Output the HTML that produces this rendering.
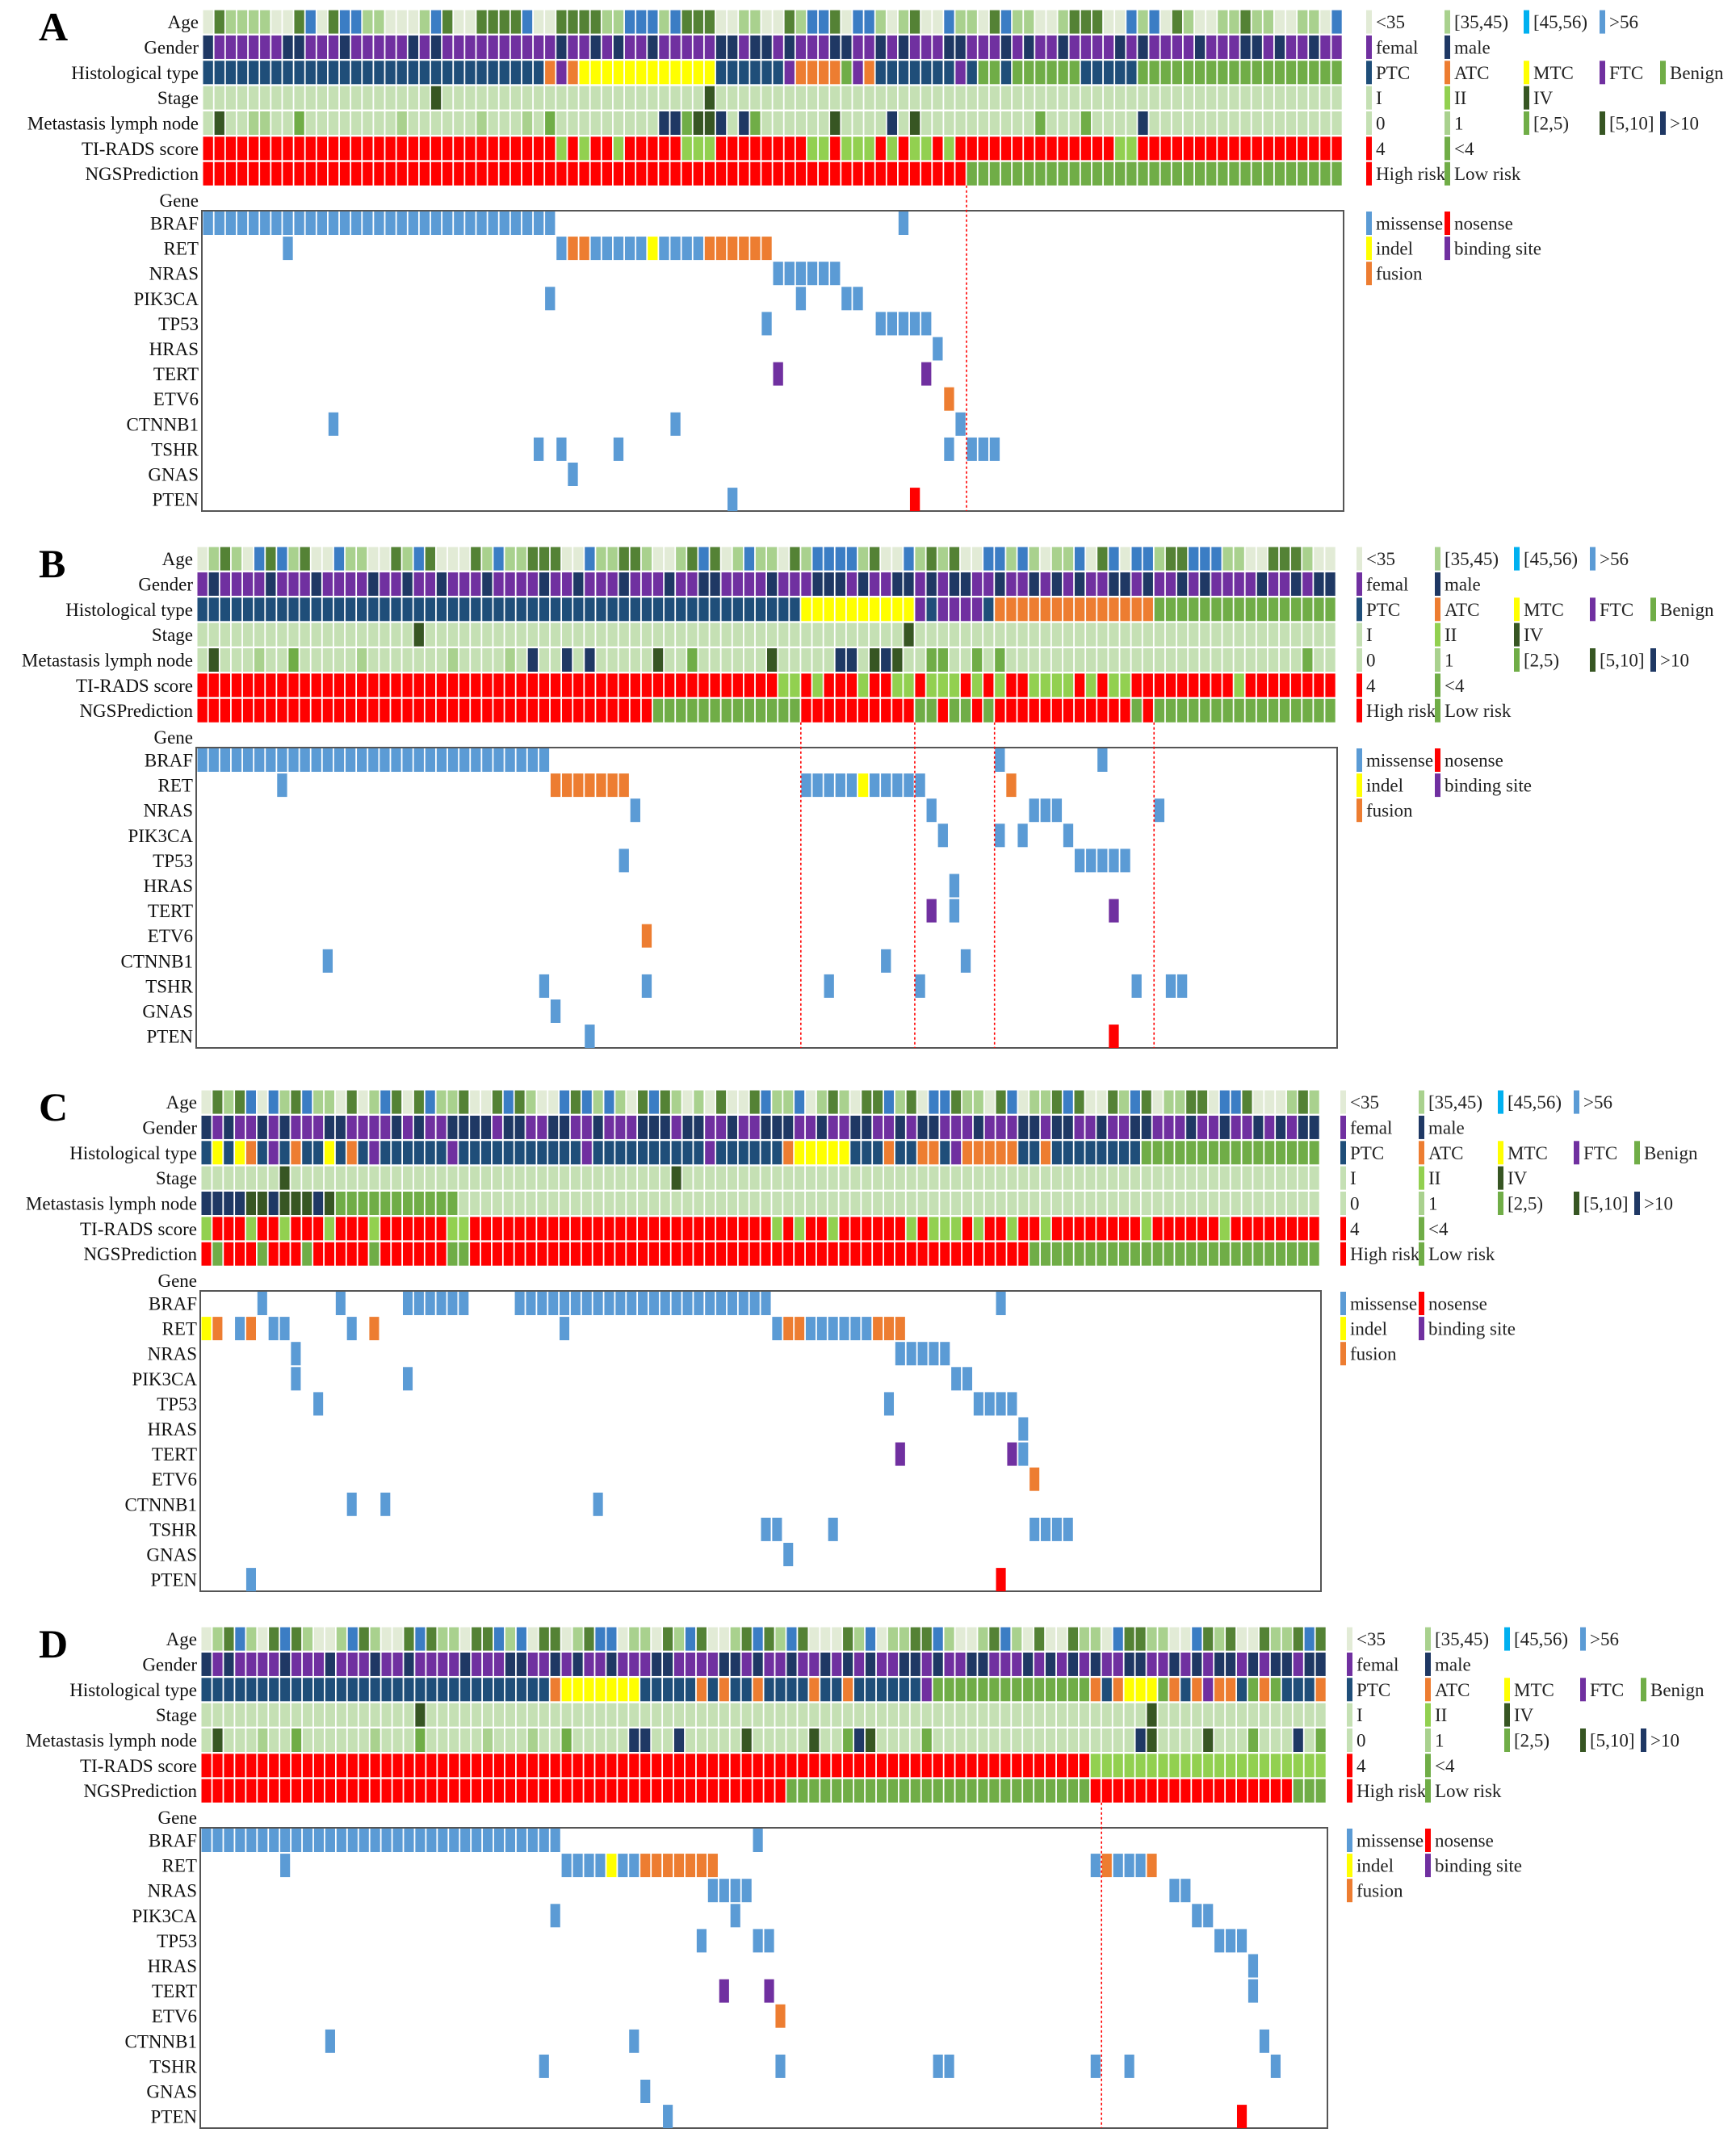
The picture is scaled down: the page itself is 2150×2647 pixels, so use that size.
<!DOCTYPE html>
<html><head><meta charset="utf-8">
<style>
html,body{margin:0;padding:0;background:#fff;}
svg{display:block;font-family:"Liberation Serif",serif;}
</style></head>
<body>
<svg id="fig" width="2150" height="2647" viewBox="0 0 2150 2647" xmlns="http://www.w3.org/2000/svg"></svg>
<script>
// ---------- data ----------
const rowLabels = ["Age","Gender","Histological type","Stage","Metastasis lymph node","TI-RADS score","NGSPrediction"];
const geneNames = ["BRAF","RET","NRAS","PIK3CA","TP53","HRAS","TERT","ETV6","CTNNB1","TSHR","GNAS","PTEN"];
const panelLetters = ["A","B","C","D"];

// Panel A clinical
const ageA    = "acbbbbaacdacddbbaaabdcaaccccdaaccccbbdddbdcccaabbaacbddcaddbabcaadbbacdbbaabcccaadbdacbaabbcbbaabbad";
const genderA = "mffffffmmfffmfffffmfmffffffffffmffmfmffmfffffmmfmmfmfffmmffmfmfffmmfffmfmffmffffmfmffffmfffmmfmffmff";
const histA   = "PPPPPPPPPPPPPPPPPPPPPPPPPPPPPPAFAMMMMMMMMMMMMPPPPPPFAAAABFAPPPPPPPFPBBPBBBBBBPPPPPBBBBBBBBBBBBBBBBBBA";
const stageA  = "1111111111111111111141111111111111111111111141111111111111111111111111111111111111111111111111111111";
const metaA   = "0500110020000000010000001000102000000000XX255X0X200000050000X050000000000200020000X00000000000000000";
const tiA     = "HHHHHHHHHHHHHHHHHHHHHHHHHHHHHHHLHLHHLHHHHHLLLHHHHHHHHLLHLLLHLHLLHLHHHHHHHHHHHHHHLLHHHHHHHHHHHHHHHHH";
const ngsA    = "HHHHHHHHHHHHHHHHHHHHHHHHHHHHHHHHHHHHHHHHHHHHHHHHHHHHHHHHHHHHHHHHHHHLLLLLLLLLLLLLLLLLLLLLLLLLLLLLLLLL";
const mutA = ["0-30m,61m","7m,31m,32-33f,34-38m,39i,40-43m,44-49f","50-55m","30m,52m,56-57m","49m,59-63m","64m","50b,63b","65f","11m,41m,66m","29m,31m,36m,65m,67-69m","32m","46m,62n"];

// Panel B clinical
const ageB    = "abcbadcdbcaadbbaacbdcaaacbdbbcccaadbbccbaabcdcabdbbacbddddbcaadbcbcaaddbdbabbdacdaddbccdddbbaacccbaa";
const genderB = "fmffffmfffmffffmffmffmfffmffffmffmfffmfffmffmmffffmfffmmmfmffmmfmfmmffmffmfmfmffmmfmffmfmffffmffmfm";
const histB   = "PPPPPPPPPPPPPPPPPPPPPPPPPPPPPPPPPPPPPPPPPPPPPPPPPPPPPMMMMMMMMMMFPFFFFPAAAAAAAAAAAAAABBBBBBBBBBBBBBBB";
const stageB  = "1111111111111111111411111111111111111111111111111111111111111141111111111111111111111111111111111111";
const metaB   = "05000100200000100000001000010X00X0X000005002000000500000XX05X50022002020000000000000000000000000020000";
const tiB     = "HHHHHHHHHHHHHHHHHHHHHHHHHHHHHHHHHHHHHHHHHHHHHHHHHHHLLHLHHHLHHLLHLLLHLHLHHLLLLHLHLLHHHHHHHHHLHHHHHHHH";
const ngsB    = "HHHHHHHHHHHHHHHHHHHHHHHHHHHHHHHHHHHHHHHHLLLLLLLLLLLLLHHHHHHHHHHLLHLLHLHHHHHHHHHHHHLHLLLLLLLLLLLLLLLL";
const mutB = ["0-30m,70m,79m","7m,31-37f,53-57m,58i,59-63m,71f","38m,64m,73-75m,84m","65m,70m,72m,76m","37m,77-81m","66m","64b,66m,80b","39f","11m,60m,67m","30m,39m,55m,63m,82m,85-86m","31m","34m,80n"];

// Panel C clinical
const ageC    = "acbcdadbcdbbacabdcacdbbcaacdcbaadcdbdbacdcbabacaacdbbdabcbaccdbcaddcbbacdabbcdcaacbdcabbccaddcaaabcb";
const genderC = "mfmffmfmfffmmffffmfmffmmmmfmmffmmffmfffmmmfmmffmffmmmffmffmmffmfmmfffmfffmmfmmffmffmmfffmffmffmfmfm";
const histC   = "PMPMAPFPAPPMPAPFPPPPPPFPPPPPPPPPPPFPPPPPPPPPPFPPPPPPAMMMMMPPPAPPAAPFAAAAAPPAPPPPPPPPBBBBBBBBBBBBBBBB";
const stageC  = "1111111411111111111111111111111111111111114111111111111111111111111111111111111111111111111111111111";
const metaC   = "XXXX55X555X5222222222220000000000000000000000000000000000000000000000000000000000000000000000000000";
const tiC     = "LHHHLHHLHHHLHHHLHHHHHHLLHHHHHHHHHHHHHHHHHHHHHHHHHHHLHLHHLHHHHHHLHLLLHLHHLHHLHHHHHHHHLHHHHHHLHHHHHHHH";
const ngsC    = "HLHHHLHHHLHHHHHLHHHHHHLLHHHHHHHHHHHHHHHHHHHHHHHHHHHHHHHHHHHHHHHHHHHHHHHHHHLLLLLLLLLLLLLLLLLLLLLLLLL";
const mutC = ["5m,12m,18-23m,28-50m,71m","0i,1f,3m,4f,6-7m,13m,15f,32m,51m,52-53f,54-59m,60-62f","8m,62-66m","8m,18m,67-68m","10m,61m,69-72m","73m","62b,72b,73m","74f","13m,16m,35m","50-51m,56m,74-77m","52m","4m,71n"];

// Panel D clinical
const ageD    = "abcdbacdcbaabdcbaacdcbbaccdbdaccabcddabbacbdcaabcdcbdcaaacbdabbccdbaabcdbacaacbbadccbbaadcbcaacbbcdc";
const genderD = "mfmffffmfffmfffmffmffffmfffmmffmfmffmfffmmffffmmfmffmffmfmfmffmmfmffmmfffmfmfmfmffmmffmfmfmmfmfmmfm";
const histD   = "PPPPPPPPPPPPPPPPPPPPPPPPPPPPPPPAMMMMMMMPPPPPAPAPPAPPPPAPPAPPPPPPFBBBBBBBBBBBBBBAPAMMMBAPAFAAPBABPPPA";
const stageD  = "1111111111111111111411111111111111111111111111111111111111111111111111111111111111114111111111111111";
const metaD   = "05000100200000010002000001000100200000XX00X000005000005002X500002000000000000000000X5000050002000X02";
const tiD     = "HHHHHHHHHHHHHHHHHHHHHHHHHHHHHHHHHHHHHHHHHHHHHHHHHHHHHHHHHHHHHHHHHHHHHHHHHHHHHHHHLLLLLLLLLLLLLLLLLLLLL".slice(1);
const ngsD    = "HHHHHHHHHHHHHHHHHHHHHHHHHHHHHHHHHHHHHHHHHHHHHHHHHHHHLLLLLLLLLLLLLLLLLLLLLLLLLLLHHHHHHHHHHHHHHHHHHLL";
const mutD = ["0-31m,49m","7m,32-35m,36i,37-38m,39-45f,79m,80f,81-83m,84f","45-48m,86-87m","31m,47m,88-89m","44m,49-50m,90-92m","93m","46b,50b,93m","51f","11m,38m,94m","30m,51m,65-66m,79m,82m,95m","39m","41m,92n"];

const dividersA = [67];
const dividersB = [53,63,70,84];
const dividersC = [];
const dividersD = [80];

// ---------- colours ----------
const colAge = {a:"#e2ebd6",b:"#a9d18e",c:"#548235",d:"#3b7dc4"};
const colGender = {f:"#7030a0",m:"#1f3864"};
const colHist = {P:"#1f4e79",A:"#ed7d31",M:"#ffff00",F:"#7030a0",B:"#70ad47"};
const colStage = {"1":"#c5e0b4","2":"#92d050","4":"#375623"};
const colMeta = {"0":"#c5e0b4","1":"#a9d18e","2":"#70ad47","5":"#375623","X":"#1f3864"};
const colTI = {H:"#ff0000",L:"#92d050"};
const colNGS = {H:"#ff0000",L:"#70ad47"};
const rowColors = [colAge,colGender,colHist,colStage,colMeta,colTI,colNGS];
const colMut = {m:"#5b9bd5",n:"#ff0000",i:"#ffff00",b:"#7030a0",f:"#ed7d31"};

const legendRows = [
  [["<35","#e2ebd6"],["[35,45)","#a9d18e"],["[45,56)","#00b0f0"],[">56","#5b9bd5"]],
  [["femal","#7030a0"],["male","#1f3864"]],
  [["PTC","#1f4e79"],["ATC","#ed7d31"],["MTC","#ffff00"],["FTC","#7030a0"],["Benign","#70ad47"]],
  [["I","#c5e0b4"],["II","#92d050"],["IV","#375623"]],
  [["0","#c5e0b4"],["1","#a9d18e"],["[2,5)","#70ad47"],["[5,10]","#375623"],[">10","#1f3864"]],
  [["4","#ff0000"],["<4","#70ad47"]],
  [["High risk","#ff0000"],["Low risk","#70ad47"]]
];
const geneLegendRows = [
  [["missense","#5b9bd5"],["nosense","#ff0000"]],
  [["indel","#ffff00"],["binding site","#7030a0"]],
  [["fusion","#ed7d31"]]
];

// ---------- layout ----------
const panels = [
  {letter:"A",yOff:0,x0:251,x1:1663,lx:1692,rows:[ageA,genderA,histA,stageA,metaA,tiA,ngsA],mut:mutA,div:dividersA},
  {letter:"B",yOff:665,x0:244,x1:1655,lx:1680,rows:[ageB,genderB,histB,stageB,metaB,tiB,ngsB],mut:mutB,div:dividersB},
  {letter:"C",yOff:1338,x0:249,x1:1635,lx:1660,rows:[ageC,genderC,histC,stageC,metaC,tiC,ngsC],mut:mutC,div:dividersC},
  {letter:"D",yOff:2003,x0:249,x1:1643,lx:1668,rows:[ageD,genderD,histD,stageD,metaD,tiD,ngsD],mut:mutD,div:dividersD}
];
const N = 100;
const rowTop0 = 12.6, rowPitch = 31.35, cellH = 29;
const boxTop = 261, boxBot = 633, geneTop = 262, genePitch = 31.1, geneH = 29;
const legendDX = [0,97,195,289,364];
const FS = 23;

const NS = "http://www.w3.org/2000/svg";
const svg = document.getElementById("fig");
function el(tag, attrs, parent){
  const e = document.createElementNS(NS, tag);
  for (const k in attrs) e.setAttribute(k, attrs[k]);
  (parent||svg).appendChild(e);
  return e;
}
function norm(s){ s = s.padEnd(N, s.slice(-1)); return s.slice(0,N); }
function parseMut(str){
  const out = [];
  str.split(",").forEach(tok=>{
    const t = tok.slice(-1), r = tok.slice(0,-1).split("-").map(Number);
    const a = r[0], b = r.length>1 ? r[1] : r[0];
    for (let c=a;c<=b;c++) out.push([c,t]);
  });
  return out;
}

panels.forEach((p,pi)=>{
  const g = el("g",{});
  
  
  const cw = (p.x1 - p.x0)/N;
  const xOf = i => p.x0 + i*cw;
  const Y = v => v + p.yOff;

  const letter = el("text",{x:48,y:Y(50),"font-size":50,"font-weight":"bold",fill:"#000"},g);
  letter.textContent = p.letter;
  
  

  p.rows.forEach((s,r)=>{
    s = norm(s);
    const ty = Y(rowTop0 + r*rowPitch);
    const lab = el("text",{x:p.x0-5,y:ty+cellH/2+8,"font-size":FS,"text-anchor":"end",fill:"#111"},g);
    lab.textContent = rowLabels[r];
    
    
    for (let i=0;i<N;i++){
      const c = el("rect",{x:xOf(i)+0.5,y:ty,width:cw-1.8,height:cellH,fill:rowColors[r][s[i]]||"#ccc"},g);
      
      
    }
    legendRows[r].forEach((item,k)=>{
      const lx = p.lx + legendDX[k];
      const sw = el("rect",{x:lx,y:ty,width:7,height:cellH,fill:item[1]},g);
      
      
      const lt = el("text",{x:lx+12,y:ty+cellH/2+8,"font-size":FS,fill:"#222"},g);
      lt.textContent = item[0];
      
      
    });
  });

  const gl = el("text",{x:p.x0-5,y:Y(256),"font-size":FS,"text-anchor":"end",fill:"#111"},g);
  gl.textContent = "Gene";
  
  

  const box = el("rect",{x:p.x0-1,y:Y(boxTop),width:p.x1-p.x0+2,height:boxBot-boxTop,fill:"none",stroke:"#555","stroke-width":2},g);
  
  

  geneNames.forEach((gn,r)=>{
    const ty = Y(geneTop + r*genePitch);
    const lab = el("text",{x:p.x0-5,y:ty+geneH/2+8,"font-size":FS,"text-anchor":"end",fill:"#111"},g);
    lab.textContent = gn;
    
    
    parseMut(p.mut[r]).forEach(([c,t])=>{
      const m = el("rect",{x:xOf(c)+0.5,y:ty,width:cw-1.8,height:geneH,fill:colMut[t]},g);
      
      
    });
  });

  geneLegendRows.forEach((row,r)=>{
    const ty = Y(geneTop + r*genePitch);
    row.forEach((item,k)=>{
      const lx = p.lx + legendDX[k];
      const sw = el("rect",{x:lx,y:ty,width:7,height:geneH,fill:item[1]},g);
      
      
      const lt = el("text",{x:lx+12,y:ty+geneH/2+8,"font-size":FS,fill:"#222"},g);
      lt.textContent = item[0];
      
      
    });
  });

  p.div.forEach(c=>{
    const ln = el("line",{x1:xOf(c),x2:xOf(c),y1:Y(rowTop0+6*rowPitch+cellH),y2:Y(boxBot),stroke:"#ff0000","stroke-width":1.6,"stroke-dasharray":"3,3"},g);
    
    
  });
});
</script>
</body></html>
